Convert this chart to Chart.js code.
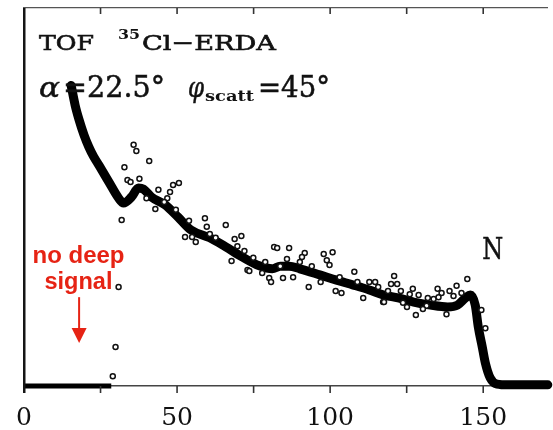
<!DOCTYPE html>
<html lang="en">
<head>
<meta charset="UTF-8">
<title>TOF 35Cl-ERDA</title>
<script src="https://cdn.jsdelivr.net/npm/chart.js@4"></script>
<style>
  html, body { margin: 0; padding: 0; background: #fff; }
  #wrap { width: 553px; height: 430px; position: relative; }
</style>
</head>
<body>
<div id="wrap"><canvas id="erda"></canvas></div>
<script>
// fitted N depth profile (channel, counts in arbitrary units)
const fitX = [15.4, 16.7, 18.0, 19.6, 21.2, 22.8, 24.4, 27.7, 30.9, 32.5, 35.1, 37.4, 39.0, 41.6, 46.1, 50.3,
              54.5, 60.7, 65.9, 71.4, 76.9, 81.1, 83.7, 86.6, 90.1, 96.6, 102.1, 107.6, 112.8, 117.3,
              122.2, 127.3, 132.8, 138.4, 141.6, 144.2, 145.8, 147.4, 148.4, 149.7, 150.7, 152.3,
              154.5, 158.1, 171.1];
const fitY = [79.5, 74.3, 70.4, 66.4, 63.2, 60.6, 58.5, 54.0, 49.7, 48.4, 50.0, 52.4, 52.1, 50.0, 47.9, 44.7,
              41.3, 39.2, 36.8, 34.1, 31.8, 31.0, 31.7, 31.7, 31.0, 29.4, 28.0, 26.7, 25.4, 24.1,
              23.3, 22.2, 21.4, 20.9, 21.4, 23.3, 24.1, 21.4, 15.6, 10.3, 6.1, 2.1,
              0.5, 0.3, 0.3];

// measured spectrum points
const measX = [29.0, 29.9, 30.9, 31.9, 35.8, 36.7, 40.9, 32.8, 33.8, 34.8, 37.7, 43.9, 47.7, 48.7, 50.6,
               46.8, 42.9, 49.6, 53.9, 45.8, 40.0, 52.6, 54.9, 59.1, 59.7, 65.9, 60.7, 62.6, 71.0, 68.8,
               69.7, 72.0, 67.8, 74.9, 78.8, 73.0, 73.6, 77.8, 80.1, 80.7, 81.7, 86.6, 85.9, 83.7, 84.6,
               56.1, 82.7, 91.7, 90.8, 90.1, 97.9, 100.8, 98.9, 99.8, 94.0, 87.9, 96.9, 93.0, 103.1,
               107.9, 108.9, 112.8, 114.7, 115.7, 101.8, 103.7, 110.8, 117.3, 120.9, 119.9, 121.9,
               123.1, 118.9, 117.6, 127.0, 126.0, 128.9, 123.8, 125.1, 131.9, 133.8, 131.5, 130.3,
               128.0, 135.1, 136.4, 139.0, 141.3, 140.3, 135.4, 142.9, 144.8, 138.0, 149.4, 150.7];
const measY = [2.6, 10.3, 26.2, 43.9, 63.8, 62.2, 59.5, 57.9, 54.5, 54.0, 54.8, 51.9, 51.3, 53.2, 53.7,
               49.7, 46.8, 46.6, 43.7, 48.7, 49.7, 39.4, 39.4, 44.4, 42.1, 42.6, 40.2, 39.2, 39.7, 38.9,
               37.0, 35.7, 33.1, 33.9, 32.8, 30.7, 30.4, 29.9, 28.6, 27.5, 36.8, 36.5, 33.6, 31.7, 28.6,
               38.1, 36.5, 35.2, 34.1, 32.8, 34.9, 35.4, 33.3, 32.0, 31.7, 28.8, 27.5, 26.2, 28.8,
               30.2, 27.5, 27.5, 27.5, 26.2, 25.1, 24.6, 23.3, 22.2, 29.1, 27.0, 27.0,
               25.1, 25.1, 22.2, 25.7, 24.3, 24.1, 22.0, 20.9, 23.3, 23.0, 21.2, 20.4,
               18.8, 25.7, 24.6, 25.1, 26.5, 23.8, 23.5, 24.6, 28.3, 19.0, 20.1, 15.3];

// channels with no signal
const zeroX = [0, 28.5];
const zeroY = [0, 0];

const xMin = 0, xMax = 171, yMax = 100;
const tickStep = 25, labelStep = 50;

// annotation positions (data units)
const peakLabel = { text: 'N', x: 153.1, y: 33.6 };
const noteLines = ['no deep', 'signal'];
const noteX = 17.8, noteY = [32.5, 25.7];
const arrowX = 18.0, arrowFrom = 23.5, arrowTo = 11.4;

const toPts = (xs, ys) => xs.map((x, i) => ({ x: x, y: ys[i] }));

const SERIF = '"DejaVu Serif", "Liberation Serif", serif';
const SANS = '"Liberation Sans", Arial, sans-serif';

// draw text stretched to span x0..x1 (optionally with a thin outline to thicken it)
function fitText(ctx, txt, x0, x1, base, font, color, thick) {
    ctx.save();
    ctx.font = font;
    ctx.fillStyle = color;
    ctx.strokeStyle = color;
    ctx.textBaseline = 'alphabetic';
    ctx.textAlign = 'left';
    const w = ctx.measureText(txt).width;
    ctx.translate(x0, base);
    ctx.scale((x1 - x0) / w, 1);
    ctx.fillText(txt, 0, 0);
    if (thick) {
        ctx.lineWidth = thick;
        ctx.strokeText(txt, 0, 0);
    }
    ctx.restore();
}

// filled bar between two points (used for the axis frame and ticks)
function bar(ctx, x, y, w, h, color) {
    ctx.fillStyle = color;
    ctx.beginPath();
    ctx.rect(x, y, w, h);
    ctx.closePath();
    ctx.fill();
}

const framePlugin = {
    id: 'frame',
    afterDraw(chart) {
        const ctx = chart.ctx;
        const a = chart.chartArea;
        const xs = chart.scales.x;
        const ys = chart.scales.y;

        const yTop = ys.getPixelForValue(yMax);
        const yBot = ys.getPixelForValue(0);
        const x0 = xs.getPixelForValue(xMin);

        ctx.save();
        ctx.globalAlpha = 1;
        ctx.globalCompositeOperation = 'source-over';
        // left axis
        bar(ctx, x0 - 1, yTop, 2.5, yBot - yTop + 7, '#151515');
        // ticks: inward on top, outward under the bottom axis
        for (let v = tickStep; v < xMax; v += tickStep) {
            const px = xs.getPixelForValue(v);
            bar(ctx, px - 0.8, yTop, 1.6, 6, '#333');
            bar(ctx, px - 0.8, yBot, 1.6, 7, '#333');
        }
        ctx.restore();

        // header text
        const L = a.left, T = a.top;
        const ink = '#111';
        fitText(ctx, 'TOF', L + 15, L + 70, T + 42, '21px ' + SERIF, ink, 0.6);
        fitText(ctx, '35', L + 94, L + 116, T + 31, 'bold 13px ' + SERIF, ink);
        fitText(ctx, 'Cl\u2212ERDA', L + 118, L + 252, T + 42, '21px ' + SERIF, ink, 0.6);
        fitText(ctx, '\u03b1', L + 15, L + 36, T + 89, 'italic 28px ' + SERIF, ink, 0.5);
        fitText(ctx, '=22.5\u00b0', L + 39, L + 141, T + 89, '29px ' + SERIF, ink, 0.5);
        fitText(ctx, '\u03c6', L + 164, L + 180, T + 89, 'italic 27px ' + SERIF, ink, 0.5);
        fitText(ctx, 'scatt', L + 181, L + 230, T + 93, 'bold 15px ' + SERIF, ink);
        fitText(ctx, '=45\u00b0', L + 234, L + 306, T + 89, '29px ' + SERIF, ink, 0.5);

        // peak label
        const nx = xs.getPixelForValue(peakLabel.x);
        const ny = ys.getPixelForValue(peakLabel.y);
        fitText(ctx, peakLabel.text, nx - 10.5, nx + 10.5, ny, '29px ' + SERIF, ink, 0.5);

        // red note with arrow
        const red = '#e62314';
        const cx = xs.getPixelForValue(noteX);
        fitText(ctx, noteLines[0], cx - 46, cx + 46, ys.getPixelForValue(noteY[0]), 'bold 23px ' + SANS, red);
        fitText(ctx, noteLines[1], cx - 34, cx + 34, ys.getPixelForValue(noteY[1]), 'bold 23px ' + SANS, red);

        const ax = xs.getPixelForValue(arrowX);
        const ay0 = ys.getPixelForValue(arrowFrom);
        const ay1 = ys.getPixelForValue(arrowTo);
        ctx.save();
        ctx.strokeStyle = red;
        ctx.fillStyle = red;
        ctx.lineWidth = 2;
        ctx.beginPath();
        ctx.moveTo(ax, ay0);
        ctx.lineTo(ax, ay1 - 12);
        ctx.stroke();
        ctx.beginPath();
        ctx.moveTo(ax - 7.5, ay1 - 15);
        ctx.lineTo(ax + 7.5, ay1 - 15);
        ctx.lineTo(ax, ay1);
        ctx.closePath();
        ctx.fill();
        ctx.restore();
    }
};

new Chart(document.getElementById('erda').getContext('2d'), {
    data: {
        datasets: [
            {
                type: 'scatter',
                label: 'measured',
                data: toPts(measX, measY),
                pointStyle: 'circle',
                pointRadius: 2.5,
                borderWidth: 1.5,
                borderColor: '#111',
                backgroundColor: '#fff'
            },
            {
                type: 'line',
                label: 'fit',
                data: toPts(fitX, fitY),
                borderColor: '#000',
                borderWidth: 9,
                pointRadius: 0,
                cubicInterpolationMode: 'monotone',
                borderCapStyle: 'round',
                borderJoinStyle: 'round',
                clip: false
            },
            {
                type: 'line',
                label: 'zero',
                data: toPts(zeroX, zeroY),
                borderColor: '#000',
                borderWidth: 5,
                pointRadius: 0,
                clip: false
            }
        ]
    },
    options: {
        responsive: true,
        maintainAspectRatio: false,
        animation: false,
        devicePixelRatio: 1,
        layout: { padding: { left: 24, top: 8, right: 0, bottom: 0 } },
        plugins: {
            legend: { display: false },
            tooltip: { enabled: false }
        },
        scales: {
            x: {
                type: 'linear',
                position: 'bottom',
                min: xMin,
                max: xMax,
                afterFit: (s) => { s.height = 44; },
                ticks: {
                    stepSize: tickStep,
                    includeBounds: false,
                    autoSkip: false,
                    maxRotation: 0,
                    padding: 9,
                    color: '#111',
                    font: { family: SERIF, size: 25 },
                    callback: (v) => (v % labelStep === 0 ? String(v) : '')
                },
                grid: { display: false },
                border: { display: true, color: '#444', width: 1.5 }
            },
            xTop: {
                type: 'linear',
                position: 'top',
                min: xMin,
                max: xMax,
                afterFit: (s) => { s.height = 0; },
                ticks: { display: false },
                grid: { display: false },
                border: { display: true, color: '#555', width: 1.2 }
            },
            y: {
                display: false,
                min: 0,
                max: yMax
            }
        }
    },
    plugins: [framePlugin]
});
</script>
</body>
</html>
